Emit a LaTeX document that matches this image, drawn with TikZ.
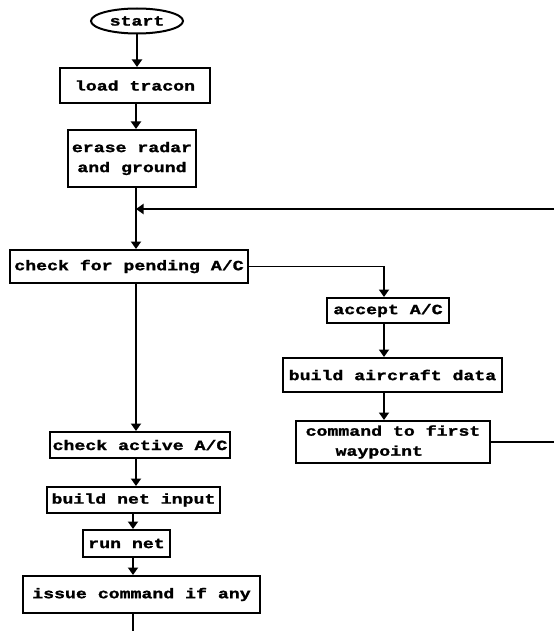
\documentclass[tikz,border=0pt]{standalone}
\usepackage{fontspec}
\newfontfamily\chartfont[FakeStretch=1.3, BoldFeatures={FakeBold=1.5}]{Liberation Mono}
\usetikzlibrary{positioning,arrows.meta,shapes.geometric,calc}

\tikzset{
  blk/.style={draw, line width=2pt, inner sep=0pt,
    font={\chartfont\bfseries\fontsize{14pt}{20pt}\selectfont}},
  term/.style={blk, ellipse},
  link/.style={line width=1.8pt},
  arr/.style={link, -{Triangle[width=10pt,length=7.5pt]}}
}

\begin{document}
\begin{tikzpicture}[x=1pt,y=-1pt]
\useasboundingbox (0,0) rectangle (554,631);
% vertical runs of the connectors
\coordinate (spine) at (136,0);
\coordinate (lowspine) at (133,0);
\coordinate (rspine) at (384,0);
% main column
\node[term, minimum width=92pt, minimum height=25pt] (start) at (137,21) {start};
\node[blk, minimum width=150pt, minimum height=35pt] (load) at (135,85.5) {load tracon};
\node[blk, align=center, minimum width=128pt, minimum height=57pt] (erase) at (132,158.5) {erase radar\\and ground};
\node[blk, minimum width=238pt, minimum height=33pt] (pending) at (129,266.5) {check for pending A/C};
% new aircraft branch
\node[blk, minimum width=122pt, minimum height=25pt] (accept) at (388,310.5) {accept A/C};
\node[blk, minimum width=219pt, minimum height=34pt] (aircraft) at (392.5,375) {build aircraft data};
\node[blk, align=left, minimum width=194pt, minimum height=42pt] (command) at (393,442) {command to first\\\hspace*{30pt}waypoint};
% active aircraft loop
\node[blk, minimum width=180pt, minimum height=26pt] (active) at (140,445) {check active A/C};
\node[blk, minimum width=173pt, minimum height=26pt] (netin) at (133.5,500) {build net input};
\node[blk, minimum width=87pt, minimum height=27pt] (runnet) at (126.5,543.5) {run net};
\node[blk, minimum width=237pt, minimum height=37pt] (issue) at (141.5,594.5) {issue command if any};
% free ends at the page edge
\coordinate (fbtop) at (554,209);
\coordinate (fbbot) at (554,442);
\coordinate (exit) at (133,631);
% connectors
\draw[arr] (start.south) -- (start.south |- load.north);
\draw[arr] (load.south -| spine) -- (erase.north -| spine);
\draw[arr] (erase.south -| spine) -- (pending.north -| spine);
\draw[arr] (fbtop) -- (fbtop -| spine);
\draw[arr] (pending.east) -| (accept.north -| rspine);
\draw[arr] (accept.south -| rspine) -- (aircraft.north -| rspine);
\draw[arr] (aircraft.south -| rspine) -- (command.north -| rspine);
\draw[link] (command.east) -- (fbbot);
\draw[arr] (pending.south -| spine) -- (active.north -| spine);
\draw[arr] (active.south -| spine) -- (netin.north -| spine);
\draw[arr] (netin.south -| lowspine) -- (runnet.north -| lowspine);
\draw[arr] (runnet.south -| lowspine) -- (issue.north -| lowspine);
\draw[link] (issue.south -| lowspine) -- (exit);
\end{tikzpicture}
\end{document}
